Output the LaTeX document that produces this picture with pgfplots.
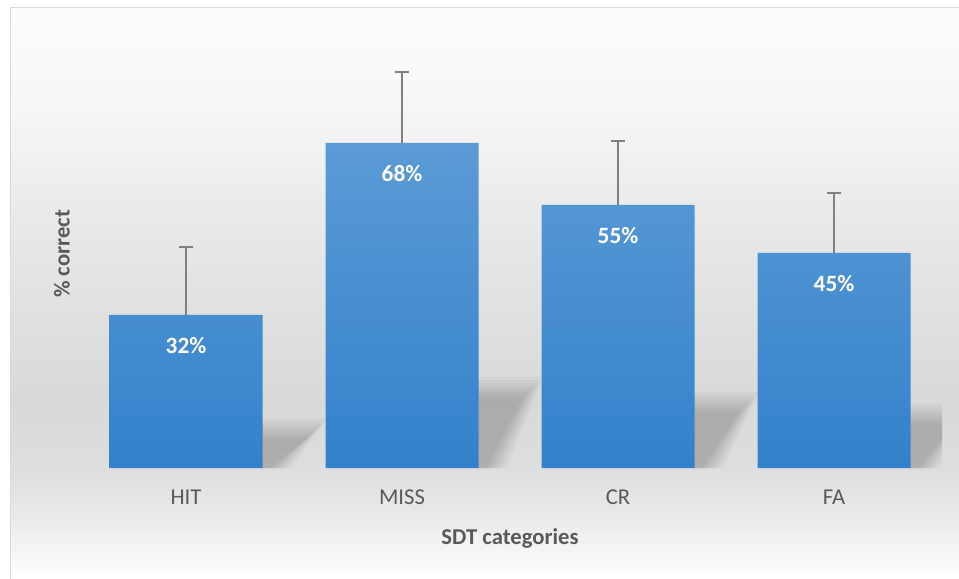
\documentclass[border=0pt]{standalone}
\usepackage{pgfplots}
\usepackage{pgfplotstable}
\usepackage{fontspec}
\pgfplotsset{compat=1.18}
\usetikzlibrary{plotmarks}
\setmainfont{Carlito}

\definecolor{bartop}{HTML}{5B9BD5}
\definecolor{barbot}{HTML}{3381CC}
\definecolor{txt}{HTML}{595959}
\definecolor{errc}{HTML}{808080}
\definecolor{frame}{HTML}{D9D9D9}

\pgfplotstableread{
x label val err
0 HIT  32 14.2
1 MISS 68 14.8
2 CR   55 13.4
3 FA   45 12.5
}\sdtdata

% soft shadow behind a bar: #1 = category position, #2 = value, #3 = spread
\newcommand{\shadowlayer}[3]{%
  \fill[black, opacity=0.028]
    (axis cs:{#1+0.344},0) --
    (axis cs:{#1+0.344},{0.24*#2+0.21*#3}) --
    (axis cs:{#1+0.354+0.24+0.0046*#3},{0.24*#2+0.21*#3}) --
    (axis cs:{#1+0.354+0.07+0.0046*#3},0) -- cycle;}
\newcommand{\barshadow}[2]{%
  \shadowlayer{#1}{#2}{-8}\shadowlayer{#1}{#2}{-5}\shadowlayer{#1}{#2}{-2}%
  \shadowlayer{#1}{#2}{1}\shadowlayer{#1}{#2}{4}\shadowlayer{#1}{#2}{7}%
  \shadowlayer{#1}{#2}{10}\shadowlayer{#1}{#2}{13}}

\begin{document}
\begin{tikzpicture}
\useasboundingbox (0,0) rectangle (719.25pt,433.5pt);
\fill[white] (0,0) rectangle (719.25pt,433.5pt);
% chart background gradient
\begin{scope}[x=0.75pt, y=0.75pt]
\fill[top color=black!8, bottom color=white] (11,0) rectangle (959,58);
\fill[top color=black!13, bottom color=black!8] (11,58) rectangle (959,110);
\fill[top color=black!15, bottom color=black!13] (11,110) rectangle (959,178);
\fill[top color=black!9, bottom color=black!15] (11,178) rectangle (959,348);
\fill[top color=black!3, bottom color=black!9] (11,348) rectangle (959,478);
\fill[top color=black!1, bottom color=black!3] (11,478) rectangle (959,570);
\draw[frame, line width=1.2pt] (10.5,-5) -- (10.5,570.5) -- (970,570.5);
\end{scope}

\begin{axis}[
    at={(58.5pt,82.5pt)}, anchor=south west,
    scale only axis,
    width=648pt, height=321pt,
    xmin=-0.5, xmax=3.5,
    ymin=0, ymax=89.5,
    axis line style={draw=none},
    major tick length=0pt,
    ytick=\empty,
    xtick=data,
    xticklabels={HIT,MISS,CR,FA},
    xticklabel style={font=\fontsize{17}{20}\selectfont, text=txt, anchor=base, yshift=-27pt},
    xlabel={\bfseries SDT categories},
    ylabel={\bfseries \% correct},
    xlabel style={font=\fontsize{17}{20}\selectfont, text=txt, at={(rel axis cs:0.5,-0.1776)}, anchor=base},
    ylabel style={font=\fontsize{17}{20}\selectfont, text=txt, at={(rel axis cs:-0.0185,0.5)}, anchor=center},
    /pgf/number format/assume math mode=true,
    clip=true,
]
\barshadow{0}{32}
\barshadow{1}{68}
\barshadow{2}{55}
\barshadow{3}{45}

\addplot[
    ybar, bar width=114.75pt, draw=none,
    top color=bartop, bottom color=barbot,
] table[x=x, y=val] {\sdtdata};

% error bars (upper only)
\addplot[
    draw=none, mark=none,
    error bars/.cd, y dir=plus, y explicit,
    error bar style={draw=errc, line width=0.9pt},
    error mark=|,
    error mark options={draw=errc, line width=0.9pt, mark size=4.9pt},
] table[x=x, y=val, y error=err] {\sdtdata};

% value labels
\addplot[
    draw=none, mark=none,
    nodes near coords={\pgfmathprintnumber{\pgfplotspointmeta}\%},
    point meta=y,
    every node near coord/.append style={font=\bfseries\fontsize{17.5}{20}\selectfont, text=white, anchor=base, yshift=-29pt},
] table[x=x, y=val] {\sdtdata};
\end{axis}
\end{tikzpicture}
\end{document}
